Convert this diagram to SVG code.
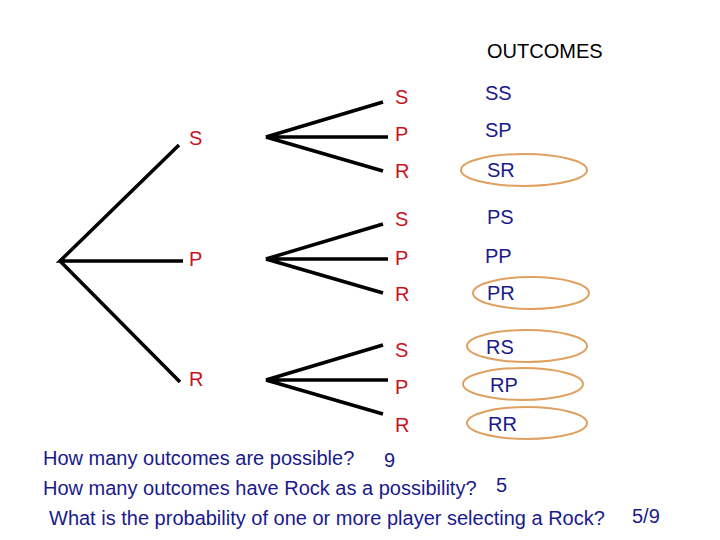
<svg xmlns="http://www.w3.org/2000/svg" width="720" height="540" viewBox="0 0 720 540">
<style>
.r{fill:#c8141e;font-family:"Liberation Sans",Arial,sans-serif;font-size:20px}
.b{fill:#1a1a8c;font-family:"Liberation Sans",Arial,sans-serif;font-size:20px}
.q{fill:#1a1a8c;font-family:"Liberation Sans",Arial,sans-serif;font-size:20px}
.l{stroke:#000;stroke-width:3.5;fill:none}
.e{stroke:#e0a060;stroke-width:2;fill:none}
</style>
<rect width="720" height="540" fill="#fff"/>
<text x="487" y="58" style="font-family:'Liberation Sans',Arial,sans-serif;font-size:20px">OUTCOMES</text>
<g id="connectors">
<path class="l" d="M179,145 L60,261 L183,261 M60,261 L180,382"/>
<path class="l" d="M383,102 L266,137 L388,137 M266,137 L383,171"/>
<path class="l" d="M383,224 L266,259 L388,259 M266,259 L383,293"/>
<path class="l" d="M383,345 L266,380 L388,380 M266,380 L383,414"/>
</g>
<g id="level1">
<text class="r" x="189" y="145">S</text>
<text class="r" x="189" y="266">P</text>
<text class="r" x="189" y="386">R</text>
</g>
<g id="level2">
<text class="r" x="395" y="104">S</text><text class="r" x="395" y="141">P</text><text class="r" x="395" y="178">R</text>
<text class="r" x="395" y="226">S</text><text class="r" x="395" y="265">P</text><text class="r" x="395" y="301">R</text>
<text class="r" x="395" y="357">S</text><text class="r" x="395" y="394">P</text><text class="r" x="395" y="432">R</text>
</g>
<g id="outcomes">
<text class="b" x="485" y="100">SS</text>
<text class="b" x="485" y="137">SP</text>
<ellipse class="e" cx="524" cy="170" rx="63" ry="16"/><text class="b" x="487" y="177">SR</text>
<text class="b" x="487" y="224">PS</text>
<text class="b" x="485" y="263">PP</text>
<ellipse class="e" cx="531" cy="293" rx="58" ry="16"/><text class="b" x="487" y="300">PR</text>
<ellipse class="e" cx="527" cy="346" rx="60" ry="16"/><text class="b" x="486" y="354">RS</text>
<ellipse class="e" cx="523" cy="384" rx="60" ry="16"/><text class="b" x="490" y="392">RP</text>
<ellipse class="e" cx="527" cy="423" rx="60" ry="16"/><text class="b" x="488" y="431">RR</text>
</g>
<g id="questions">
<text class="q" x="43" y="465">How many outcomes are possible?</text>
<text class="q" x="384" y="467">9</text>
<text class="q" x="43" y="495">How many outcomes have Rock as a possibility?</text>
<text class="q" x="496" y="492">5</text>
<text class="q" x="49" y="525">What is the probability of one or more player selecting a Rock?</text>
<text class="q" x="632" y="523">5/9</text>
</g>
</svg>
